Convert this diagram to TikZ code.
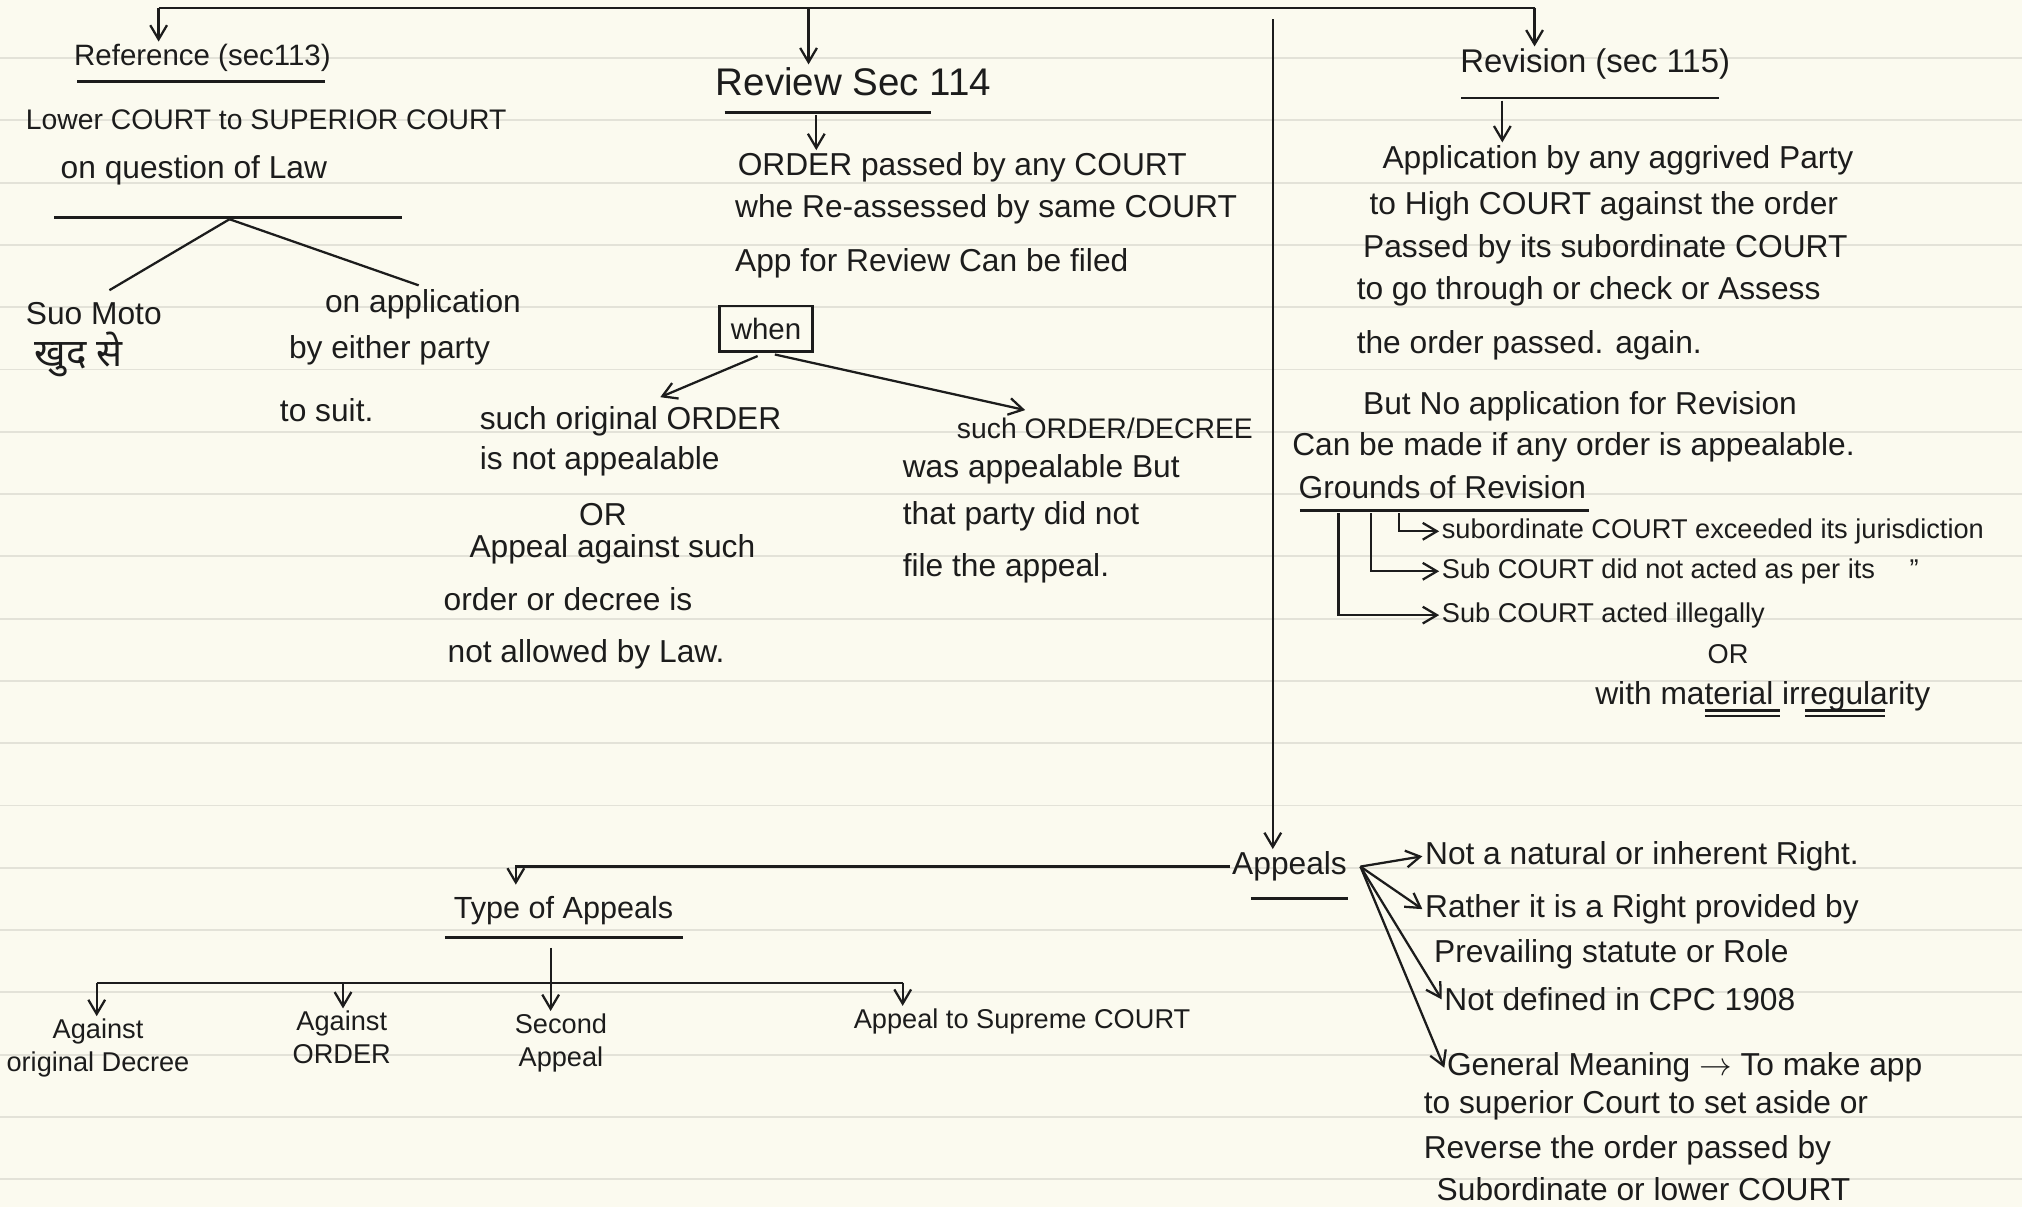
\documentclass[tikz,border=0pt]{standalone}
\usepackage{fontspec}
\setmainfont{Liberation Sans}
\newfontfamily\devfont[Script=Devanagari]{Noto Sans}
\usetikzlibrary{arrows.meta, positioning}

\definecolor{paper}{HTML}{FBFAEF}
\definecolor{ruling}{HTML}{E3E2D8}
\definecolor{ink}{HTML}{1C1C1C}

\begin{document}
\begin{tikzpicture}[
    x=0.02cm, y=-0.02cm,
    txt/.style={anchor=west, inner sep=1pt, text=ink, font=\fontsize{14}{16}\selectfont},
    sml/.style={inner sep=1pt, text=ink, align=center, font=\fontsize{12}{14.5}\selectfont},
    head/.style={inner sep=1pt, text=ink},
    link/.style={draw=ink, line width=1pt},
    arr/.style={link, -{Straight Barb[length=2.2mm, width=2.6mm]}},
    uline/.style={draw=ink, line width=1.3pt},
]
  % paper
  \fill[paper] (0,0) rectangle (1568,936);
  \useasboundingbox (0,0) rectangle (1568,936);
  \foreach \k in {0,...,18}
    \draw[ruling, line width=0.8pt] (0,{45+48.3*\k}) -- (1568,{45+48.3*\k});

  % top bar
  \coordinate (barL) at (123,6);
  \coordinate (barM) at (627,6);
  \coordinate (barR) at (1190,6);
  \draw[link] (barL) -- (barR);

  % Reference
  \node[head, font=\fontsize{13}{15}\selectfont] (ref) at (157,45) {Reference (sec113)};
  \draw[arr] (barL) -- (barL |- ref.north);
  \draw[uline] (60,63) -- (252,63);
  \node[txt, font=\fontsize{12.5}{15}\selectfont] (ref1) at (18,93) {Lower COURT to SUPERIOR COURT};
  \node[txt] (ref2) at (45,132) {on question of Law};
  \draw[uline] (42,169) -- (312,169);
  \coordinate (refFork) at (178,170);
  \node[txt] (suo) at (18,243) {Suo Moto};
  \node[txt, font=\fontsize{17}{18}\selectfont] (suo2) at (25,275) {\devfont खुद से};
  \node[txt] (onapp) at (250,236) {on application};
  \node[txt] (onapp2) at (222,272) {by either party};
  \node[txt] (onapp3) at (215,318) {to suit.};
  \draw[link, shorten >=8pt] (refFork) -- (suo.north);
  \draw[link, shorten >=2pt] (refFork) -- (onapp.north);

  % Review
  \node[head, font=\fontsize{17}{19}\selectfont] (rvw) at (662,63) {Review Sec 114};
  \draw[arr] (barM) -- (barM |- rvw.north);
  \draw[uline] (562,87) -- (722,87);
  \coordinate (rvwU) at (633,89);
  \node[txt] (rv1) at (570,130) {ORDER passed by any COURT};
  \node[txt] (rv2) at (568,162) {whe Re-assessed by same COURT};
  \node[txt] (rv3) at (568,204) {App for Review Can be filed};
  \draw[arr] (rvwU) -- (rvwU |- rv1.north);
  \node[draw=ink, line width=1pt, text=ink, minimum width=1.44cm, minimum height=0.7cm,
        font=\fontsize{13}{15}\selectfont] (when) at (594,255) {when};
  \coordinate (whenL) at (512,308);
  \coordinate (whenR) at (795,318);
  \draw[arr, shorten <=4pt] (when.south) -- (whenL);
  \draw[arr, shorten <=4pt] (when.south) -- (whenR);

  \node[txt] (wl1) at (370,327) {such original ORDER};
  \node[txt] (wl2) at (370,358) {is not appealable};
  \node[txt] (wl3) at (447,399) {OR};
  \node[txt] (wl4) at (362,426) {Appeal against such};
  \node[txt] (wl5) at (342,465) {order or decree is};
  \node[txt] (wl6) at (345,507) {not allowed by Law.};

  \node[txt, font=\fontsize{12.5}{15}\selectfont] (wr1) at (740,332) {such ORDER/DECREE};
  \node[txt] (wr2) at (698,364) {was appealable But};
  \node[txt] (wr3) at (698,400) {that party did not};
  \node[txt] (wr4) at (698,441) {file the appeal.};

  % Revision
  \node[head, font=\fontsize{14.5}{17}\selectfont] (rev) at (1237,50) {Revision (sec 115)};
  \draw[arr] (barR) -- (barR |- rev.north);
  \draw[uline] (1133,76) -- (1333,76);
  \coordinate (revU) at (1165,78);
  \node[txt] (rs1) at (1070,124) {Application by any aggrived Party};
  \draw[arr] (revU) -- (revU |- rs1.north);
  \node[txt] (rs2) at (1060,160) {to High COURT against the order};
  \node[txt] (rs3) at (1055,193) {Passed by its subordinate COURT};
  \node[txt] (rs4) at (1050,226) {to go through or check or Assess};
  \node[txt] (rs5) at (1050,268) {the order passed. again.};
  \node[txt] (rs6) at (1055,315) {But No application for Revision};
  \node[txt] (rs7) at (1000,347) {Can be made if any order is appealable.};
  \node[txt] (grd) at (1005,378) {Grounds of Revision};
  \draw[uline] (1008,396) -- (1232,396);

  \coordinate (gA) at (1085,398);
  \coordinate (gB) at (1063,398);
  \coordinate (gC) at (1038,398);
  \node[sml, anchor=west] (g1) at (1116,412) {subordinate COURT exceeded its jurisdiction};
  \node[sml, anchor=west] (g2) at (1116,443) {Sub COURT did not acted as per its \quad ''};
  \node[sml, anchor=west] (g3) at (1116,477) {Sub COURT acted illegally};
  \node[sml] (g4) at (1340,507) {OR};
  \node[txt] (g5) at (1235,540) {with material irregularity};
  \draw[arr] (gA) |- (g1.west);
  \draw[arr] (gB) |- (g2.west);
  \draw[arr] (gC) |- (g3.west);
  \draw[link] (1322,551) -- (1380,551) (1322,555) -- (1380,555);
  \draw[link] (1400,551) -- (1462,551) (1400,555) -- (1462,555);

  % Appeals
  \coordinate (vTop) at (987,15);
  \node[head, font=\fontsize{14}{16}\selectfont] (appeals) at (1000,672) {Appeals};
  \draw[arr] (vTop) -- (vTop |- appeals.north);
  \draw[uline] (970,697) -- (1045,697);

  \coordinate (appO) at (1055,672);
  \node[txt] (ap1) at (1103,664) {Not a natural or inherent Right.};
  \node[txt] (ap2) at (1103,705) {Rather it is a Right provided by};
  \node[txt] (ap2b) at (1110,740) {Prevailing statute or Role};
  \node[txt] (ap3) at (1118,775) {Not defined in CPC 1908};
  \node[txt] (ap4) at (1120,828) {General Meaning $\rightarrow$ To make app};
  \node[txt] (ap4b) at (1102,857) {to superior Court to set aside or};
  \node[txt] (ap4c) at (1102,892) {Reverse the order passed by};
  \node[txt] (ap4d) at (1112,922) {Subordinate or lower COURT};
  \draw[arr] (appO) -- (ap1.west);
  \draw[arr] (appO) -- (ap2.west);
  \draw[arr] (appO) -- (ap3.west);
  \draw[arr] (appO) -- (ap4.west);

  % Type of Appeals
  \coordinate (typIn) at (400,686);
  \draw[arr] (appeals.west) -| (typIn);
  \node[head, font=\fontsize{13.5}{16}\selectfont] (typ) at (437,706) {Type of Appeals};
  \draw[uline] (345,727) -- (530,727);
  \coordinate (typOut) at (427,735);
  \coordinate (barA) at (75,762);
  \coordinate (barB) at (266,762);
  \coordinate (barD) at (700,762);
  \draw[link] (barA) -- (barD);
  \node[sml, anchor=north] (ta1) at (76,788) {Against\\original Decree};
  \node[sml, anchor=north] (ta2) at (265,782) {Against\\ORDER};
  \node[sml, anchor=north] (ta3) at (435,784) {Second\\Appeal};
  \node[sml, anchor=north west] (ta4) at (660,780) {Appeal to Supreme COURT};
  \draw[arr] (barA) -- (barA |- ta1.north);
  \draw[arr] (barB) -- (barB |- ta2.north);
  \draw[arr] (typOut) -- (typOut |- ta3.north);
  \draw[arr] (barD) -- (barD |- ta4.north);
\end{tikzpicture}
\end{document}
